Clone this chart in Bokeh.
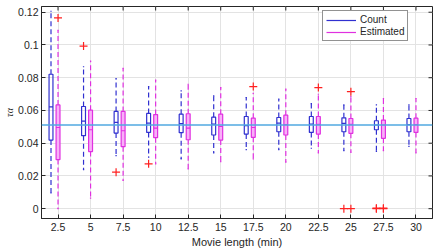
import numpy as np
from bokeh.plotting import figure
from bokeh.models import (Range1d, FixedTicker, NumeralTickFormatter,
                          Legend, LegendItem, Span, ColumnDataSource)
from bokeh.embed import file_html
from bokeh.resources import INLINE

# Movie lengths (minutes) for each group
lengths = [2.5, 5, 7.5, 10, 12.5, 15, 17.5, 20, 22.5, 25, 27.5, 30]

# "Count" method: box statistics per movie length
count_lo  = [0.0097, 0.0239, 0.0324, 0.0314, 0.0304, 0.0340, 0.0361, 0.0361, 0.0369, 0.0355, 0.0350, 0.0381]
count_q1  = [0.0419, 0.0446, 0.0462, 0.0466, 0.0464, 0.0450, 0.0456, 0.0470, 0.0466, 0.0470, 0.0482, 0.0470]
count_med = [0.0622, 0.0535, 0.0527, 0.0523, 0.0519, 0.0517, 0.0507, 0.0523, 0.0517, 0.0521, 0.0511, 0.0513]
count_q3  = [0.0821, 0.0624, 0.0594, 0.0582, 0.0577, 0.0559, 0.0563, 0.0557, 0.0563, 0.0555, 0.0537, 0.0551]
count_hi  = [0.1206, 0.0867, 0.0794, 0.0746, 0.0719, 0.0689, 0.0679, 0.0669, 0.0642, 0.0634, 0.0634, 0.0634]

# "Estimated" method: box statistics per movie length
est_lo  = [0.0000, 0.0065, 0.0172, 0.0274, 0.0243, 0.0288, 0.0304, 0.0284, 0.0340, 0.0344, 0.0355, 0.0340]
est_q1  = [0.0300, 0.0349, 0.0379, 0.0434, 0.0421, 0.0419, 0.0436, 0.0450, 0.0456, 0.0460, 0.0430, 0.0466]
est_med = [0.0496, 0.0482, 0.0476, 0.0492, 0.0492, 0.0502, 0.0496, 0.0513, 0.0515, 0.0515, 0.0511, 0.0513]
est_q3  = [0.0634, 0.0602, 0.0594, 0.0575, 0.0580, 0.0577, 0.0553, 0.0571, 0.0563, 0.0551, 0.0541, 0.0553]
est_hi  = [0.1090, 0.0902, 0.0857, 0.0786, 0.0760, 0.0740, 0.0705, 0.0730, 0.0699, 0.0685, 0.0673, 0.0673]

# Outliers
count_out_len = [5, 7.5, 10, 25, 27.5, 27.5]
count_out_val = [0.0993, 0.0223, 0.0274, 0.0, 0.0, 0.0003]
est_out_len = [2.5, 17.5, 22.5, 25, 25, 27.5, 27.5]
est_out_val = [0.1165, 0.0746, 0.0740, 0.0715, 0.0, 0.0, 0.0003]

# Reference value
tau_ref = 0.0511

y_ticks = [0, 0.02, 0.04, 0.06, 0.08, 0.1, 0.12]

BLUE = "#3030d0"
MAGENTA = "#e030e0"
PINK = "#f8b0f8"
RED = "#ff2020"
AXIS = "#262626"
GRID = "#e3e3e3"

OFFSET = 0.54   # count boxes sit to the left of the tick
BOXW = 0.30
CAPW = 0.10

x_rng = Range1d(1.23, 31.27)
y_rng = Range1d(-0.006, 0.1235)

p = figure(width=435, height=250, output_backend="svg", toolbar_location=None,
           x_range=x_rng, y_range=y_rng,
           min_border_left=41, min_border_right=3, min_border_top=6,
           min_border_bottom=31)
p.outline_line_color = AXIS
p.outline_line_width = 1
p.background_fill_color = "white"

# axes
p.xaxis.ticker = FixedTicker(ticks=lengths)
p.xaxis.formatter = NumeralTickFormatter(format="0.[0]")
p.yaxis.ticker = FixedTicker(ticks=y_ticks)
p.yaxis.formatter = NumeralTickFormatter(format="0.[00]")
for ax in (p.xaxis[0], p.yaxis[0]):
    ax.major_tick_in = 4
    ax.major_tick_out = 0
    ax.minor_tick_line_color = None
    ax.axis_line_color = AXIS
    ax.major_tick_line_color = AXIS
    ax.major_label_text_color = AXIS
    ax.major_label_text_font = "Liberation Sans"
    ax.major_label_text_font_size = "10.5px"
p.xaxis.major_label_standoff = 4
p.yaxis.major_label_standoff = 3
p.xaxis.axis_label = "Movie length (min)"
p.xaxis.axis_label_text_font = "Liberation Sans"
p.xaxis.axis_label_text_font_style = "normal"
p.xaxis.axis_label_text_font_size = "11px"
p.xaxis.axis_label_text_color = AXIS
p.xaxis.axis_label_standoff = 2

p.yaxis.axis_label = "τα"
p.yaxis.axis_label_text_font = "Liberation Serif"
p.yaxis.axis_label_text_font_style = "italic"
p.yaxis.axis_label_text_font_size = "10px"
p.yaxis.axis_label_text_color = AXIS
p.yaxis.axis_label_standoff = 0

# mirrored tick marks along the top and right edges (half clipped by the frame)
p.scatter(x=lengths, y=[y_rng.end] * len(lengths), marker="dash", angle=np.pi / 2,
          size=8, line_color=AXIS, line_width=1)
p.scatter(x=[x_rng.end] * len(y_ticks), y=y_ticks, marker="dash",
          size=8, line_color=AXIS, line_width=1)

p.xgrid.ticker = FixedTicker(ticks=lengths)
p.ygrid.ticker = FixedTicker(ticks=y_ticks)
p.grid.grid_line_color = GRID
p.grid.grid_line_width = 1

L = np.array(lengths, dtype=float)


def draw_group(xc, lo, q1, med, q3, hi, color, fill, fill_alpha):
    src = ColumnDataSource(dict(
        x=xc, left=xc - BOXW / 2, right=xc + BOXW / 2,
        cl=xc - CAPW / 2, cr=xc + CAPW / 2,
        lo=lo, q1=q1, med=med, q3=q3, hi=hi))
    # whiskers
    p.segment(x0="x", y0="q3", x1="x", y1="hi", source=src, line_color=color,
              line_dash="5 3", line_width=1.2)
    p.segment(x0="x", y0="q1", x1="x", y1="lo", source=src, line_color=color,
              line_dash="5 3", line_width=1.2)
    # whisker ends
    p.segment(x0="cl", y0="hi", x1="cr", y1="hi", source=src, line_color=color, line_width=1.2)
    p.segment(x0="cl", y0="lo", x1="cr", y1="lo", source=src, line_color=color, line_width=1.2)
    # box
    p.quad(left="left", right="right", bottom="q1", top="q3", source=src,
           fill_color=fill, fill_alpha=fill_alpha, line_color=color, line_width=1.2)
    # median
    return p.segment(x0="left", y0="med", x1="right", y1="med", source=src,
                     line_color=color, line_width=1.2)


r_count = draw_group(L - OFFSET, count_lo, count_q1, count_med, count_q3, count_hi,
                     BLUE, "white", 0.0)
r_est = draw_group(L, est_lo, est_q1, est_med, est_q3, est_hi, MAGENTA, PINK, 1.0)

# outliers
p.scatter(np.array(count_out_len) - OFFSET, count_out_val, marker="cross", size=8,
          line_color=RED, line_width=1.2)
p.scatter(np.array(est_out_len, dtype=float), est_out_val, marker="cross", size=8,
          line_color=RED, line_width=1.2)

# reference level
p.add_layout(Span(location=tau_ref, dimension="width", line_color="#50a8e0", line_width=1.3))

# legend
legend = Legend(items=[LegendItem(label="Count", renderers=[r_count]),
                       LegendItem(label="Estimated", renderers=[r_est])],
                location=(281, 177), orientation="vertical",
                label_text_font="Liberation Sans", label_text_font_size="10px",
                label_text_color=AXIS, label_height=10, glyph_height=10,
                glyph_width=30, label_standoff=4, spacing=1, padding=3,
                margin=0, border_line_color=AXIS, border_line_width=1,
                background_fill_color="white", background_fill_alpha=1)
p.add_layout(legend, "center")

open("out.html", "w").write(file_html(p, INLINE))
